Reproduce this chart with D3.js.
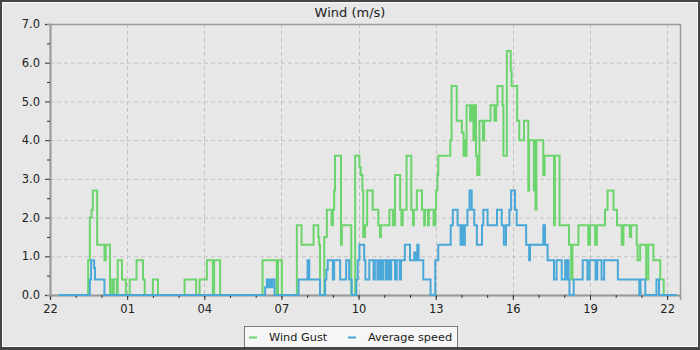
<!DOCTYPE html>
<html>
<head>
<meta charset="utf-8">
<script src="https://cdn.jsdelivr.net/npm/d3@7"></script>
<style>
  body { margin: 0; background: #fff; }
  svg { display: block; font-family: "DejaVu Sans", sans-serif; }
</style>
</head>
<body>
<div id="chart"></div>
<script>
// wind data (time of change, value after the change)
var gustTimes = ["22:20","23:29","23:33","23:37","23:40","23:50","00:07","00:10","00:20","00:22","00:27","00:29","00:36",
  "00:38","00:48","00:57","01:06","01:22","01:37","01:41","02:00","02:12","03:14","03:41","03:49","04:06","04:20","04:23","04:37",
  "06:16","06:49","06:52","07:01","07:36","07:47","08:15","08:26","08:28","08:30","08:40","08:46","08:57","09:00","09:03","09:05",
  "09:19","09:21","09:43","09:52","10:02","10:05","10:09","10:11","10:15","10:20","10:33","10:46","10:50","10:52","11:12","11:20",
  "11:25","11:37","11:40","11:43","11:52","12:03","12:07","12:09","12:16","12:28","12:33","12:35","12:42","12:44","12:55","12:59",
  "13:01","13:04","13:06","13:34","13:37","13:49","14:01","14:05","14:08","14:10","14:12","14:20","14:24","14:28","14:30","14:34",
  "14:37","14:42","14:50","14:53","15:08","15:17","15:21","15:24","15:36","15:38","15:46","15:55","15:57","16:10","16:15","16:26",
  "16:36","16:38","16:49","16:51","16:53","16:55","17:11","17:14","17:36","17:38","17:49","18:11","18:16","18:19","18:33","18:56",
  "19:00","19:12","19:16","19:35","19:41","19:55","20:03","20:14","20:18","20:33","20:36","20:49","20:51","20:57","21:11","21:16",
  "21:28","21:44","21:52","22:22"];
var gustValues = [0,0.9,2.0,2.2,2.7,1.3,0.9,1.3,0,0.4,0,0.4,0,
  0.9,0.4,0,0.4,0.9,0.4,0,0.4,0,0.4,0,0.4,0.9,0,0.9,0,
  0.9,0,0.9,0,1.8,1.3,1.8,1.5,1.3,0,1.5,2.2,1.8,2.2,2.7,3.6,
  1.3,1.8,0,3.6,3.3,3.1,2.7,1.5,1.8,2.7,2.2,1.8,1.5,1.8,2.2,1.8,
  3.1,2.2,1.8,2.2,3.6,2.2,1.8,2.2,2.7,2.2,1.8,2.2,1.8,2.2,1.8,2.2,
  2.7,3.1,3.6,4.0,5.4,4.5,4.2,3.6,4.0,3.6,4.9,4.5,4.9,4.0,4.9,3.6,
  3.1,4.5,4.0,4.5,4.9,4.5,4.9,5.4,4.9,3.6,6.3,5.8,5.4,4.5,4.0,4.5,
  2.7,4.0,2.7,4.0,2.2,4.0,3.1,3.6,1.8,3.6,1.8,1.3,0.4,1.3,1.8,1.3,
  1.8,1.3,1.8,2.2,2.7,2.2,1.8,1.3,1.8,1.5,1.8,1.3,0.9,1.3,0.4,1.3,
  0.9,0.4,0,0];

var avgTimes = ["22:20","23:33","23:36","23:43","23:45","00:07","06:22","06:26","06:29","06:32","06:36","06:39","06:44",
  "07:40","08:01","08:05","08:30","08:42","08:45","08:48","09:00","09:03","09:17","09:31","09:38","09:44","09:55","09:58","10:02",
  "10:13","10:16","10:25","10:35","10:38","10:44","10:48","10:50","10:51","10:53","10:55","10:57","10:58","11:04","11:08","11:12",
  "11:16","11:25","11:29","11:36","11:39","11:48","12:00","12:10","12:13","12:17","12:20","12:31","12:48","12:59","13:06","13:35",
  "13:40","13:51","13:58","14:00","14:02","14:04","14:06","14:08","14:14","14:19","14:24","14:30","14:36","14:48","14:51","15:01",
  "15:23","15:34","15:39","15:44","15:52","15:56","16:05","16:09","16:31","16:38","16:40","17:11","17:15","17:21","17:36","17:42",
  "17:54","18:02","18:05","18:07","18:10","18:12","18:22","18:43","18:54","18:59","19:13","19:17","19:27","19:33","20:05","20:55",
  "20:58","21:09","21:35","21:41","22:22"];
var avgValues = [0,0.4,0.9,0.7,0.4,0,0.2,0.4,0.2,0.4,0.2,0.4,0,
  0.4,0.9,0.4,0,0.4,0.65,0.9,0.4,0.9,0.4,0.9,0.4,0,0.4,0.9,1.3,
  0.9,0.4,0.9,0.4,0.9,0.4,0.9,0.4,0.9,0.4,0.9,0.4,0.9,0.4,0.9,0.4,
  0.9,0.4,0.9,0.4,0.9,1.3,0.9,1.1,0.9,1.3,0.9,0.4,0,0.9,1.3,1.8,
  2.2,1.8,1.3,1.8,1.3,1.8,1.3,1.8,2.2,2.7,2.2,1.8,1.3,1.8,2.2,1.8,
  2.2,1.8,1.3,1.8,2.2,2.7,2.2,1.8,1.3,0.9,1.3,1.8,1.3,0.9,0.4,0.9,
  0.4,0.9,0.4,0.9,0.4,0,0.4,0.9,0.4,0.9,0.4,0.9,0.4,0.9,0.4,0,
  0.4,0,0.4,0,0];

var yTicks = [0, 1, 2, 3, 4, 5, 6, 7];
var seriesNames = ["Wind Gust", "Average speed"];
var seriesColors = ["#6cd46c", "#4aa8d8"];

// SVG area
var svgWidth = 700;
var svgHeight = 350;
var margin = { top: 24, right: 20, bottom: 55, left: 50 };
var chartWidth = svgWidth - margin.left - margin.right;
var chartHeight = svgHeight - margin.top - margin.bottom;

// turn "HH:MM" into dates, rolling over midnight
function toDates(times) {
  var day = 1, prev = -1;
  return times.map(function(t) {
    var p = t.split(":");
    var m = +p[0] * 60 + +p[1];
    if (m < prev) day++;
    prev = m;
    return new Date(2024, 0, day, +p[0], +p[1]);
  });
}

var gustData = toDates(gustTimes).map((d, i) => ({ t: d, v: gustValues[i] }));
var avgData = toDates(avgTimes).map((d, i) => ({ t: d, v: avgValues[i] }));

var svg = d3.select("#chart")
  .append("svg")
  .attr("width", svgWidth)
  .attr("height", svgHeight);

// outer frame
svg.append("rect")
  .attr("width", svgWidth).attr("height", svgHeight)
  .attr("fill", "#464646");
svg.append("rect")
  .attr("x", 2.5).attr("y", 2.5)
  .attr("width", svgWidth - 5).attr("height", svgHeight - 6)
  .attr("fill", "#e7e7e7")
  .attr("stroke", "#fafafa");

var chartGroup = svg.append("g")
  .attr("transform", `translate(${margin.left}, ${margin.top})`);

var start = new Date(2024, 0, 1, 22, 0);
var xScale = d3.scaleTime()
  .domain([start, new Date(2024, 0, 2, 22, 30)])
  .range([0, chartWidth]);

var yScale = d3.scaleLinear()
  .domain([0, 7])
  .range([chartHeight, 0]);

// ticks every 3 hours from 22:00, minor every hour
var majorX = d3.range(0, 25, 3).map(h => d3.timeHour.offset(start, h));
var minorX = d3.range(0, 25, 1).map(h => d3.timeHour.offset(start, h));

// gridlines
chartGroup.append("g")
  .selectAll("line")
  .data(yTicks.slice(1, -1))
  .enter()
  .append("line")
  .attr("x1", 0).attr("x2", chartWidth)
  .attr("y1", d => yScale(d) + 0.5).attr("y2", d => yScale(d) + 0.5)
  .attr("stroke", "#c2c2c2")
  .attr("stroke-dasharray", "4,3");

chartGroup.append("g")
  .selectAll("line")
  .data(majorX.slice(1))
  .enter()
  .append("line")
  .attr("x1", d => Math.round(xScale(d)) + 0.5).attr("x2", d => Math.round(xScale(d)) + 0.5)
  .attr("y1", 0).attr("y2", chartHeight)
  .attr("stroke", "#c2c2c2")
  .attr("stroke-dasharray", "4,3");

// plot frame
chartGroup.append("rect")
  .attr("x", 0.5).attr("y", 0.5)
  .attr("width", chartWidth).attr("height", chartHeight)
  .attr("fill", "none")
  .attr("stroke", "#9a9a9a")
  .attr("stroke-width", 1.5);

// axes
var xAxis = chartGroup.append("g")
  .attr("transform", `translate(0, ${chartHeight})`)
  .call(d3.axisBottom(xScale).tickValues(majorX).tickFormat(d3.timeFormat("%H")).tickSize(5).tickPadding(5));
chartGroup.append("g")
  .attr("transform", `translate(0, ${chartHeight})`)
  .call(d3.axisBottom(xScale).tickValues(minorX).tickFormat("").tickSize(3));

var yAxis = chartGroup.append("g")
  .call(d3.axisLeft(yScale).tickValues(yTicks).tickFormat(d3.format(".1f")).tickSize(5).tickPadding(5));
chartGroup.append("g")
  .call(d3.axisLeft(yScale).tickValues(yTicks.slice(0, -1).map(d => d + 0.5)).tickFormat("").tickSize(3));

chartGroup.selectAll(".domain").attr("stroke", "#9a9a9a").attr("stroke-width", 1.5);
chartGroup.selectAll(".tick line").attr("stroke", "#333");
chartGroup.selectAll(".tick text")
  .attr("fill", "#222")
  .style("font-size", "11.5px")
  .style("font-family", "DejaVu Sans");

// series
var line = d3.line()
  .x(d => xScale(d.t))
  .y(d => yScale(d.v))
  .curve(d3.curveStepAfter);

[gustData, avgData].forEach((data, i) => {
  chartGroup.append("path")
    .datum(data)
    .attr("fill", "none")
    .attr("stroke", seriesColors[i])
    .attr("stroke-width", 2)
    .attr("d", line);
});

// title
svg.append("text")
  .attr("x", 350)
  .attr("y", 17)
  .attr("text-anchor", "middle")
  .attr("fill", "#222")
  .style("font-size", "13px")
  .text("Wind (m/s)");

// legend
var legend = svg.append("g");
legend.append("rect")
  .attr("x", 244.5).attr("y", 326.5)
  .attr("width", 213).attr("height", 24)
  .attr("fill", "#f6f6f6")
  .attr("stroke", "#7a7a7a");

var legendX = [249, 348];
seriesNames.forEach((name, i) => {
  legend.append("line")
    .attr("x1", legendX[i]).attr("x2", legendX[i] + 8)
    .attr("y1", 337.5).attr("y2", 337.5)
    .attr("stroke", seriesColors[i])
    .attr("stroke-width", 2);
  legend.append("text")
    .attr("x", legendX[i] + 20)
    .attr("y", 341)
    .attr("fill", "#222")
    .style("font-size", "11.3px")
    .text(name);
});

// bottom border on top of legend
svg.append("rect")
  .attr("x", 0).attr("y", 347)
  .attr("width", svgWidth).attr("height", 3)
  .attr("fill", "#464646");
</script>
</body>
</html>
